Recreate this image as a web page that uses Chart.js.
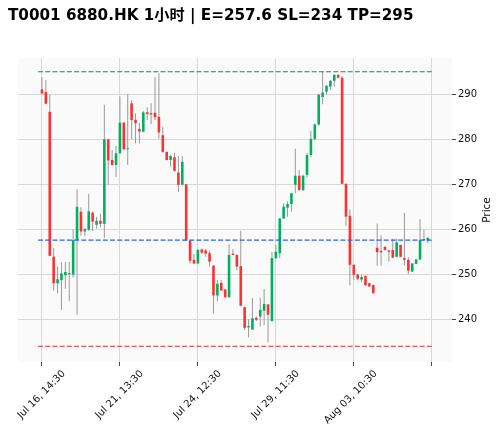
<!DOCTYPE html>
<html lang="en">
<head>
  <meta charset="UTF-8" />
  <title>T0001 6880.HK</title>
  <script src="https://cdn.jsdelivr.net/npm/chart.js@4"></script>
  <style>
    * { margin: 0; padding: 0; box-sizing: border-box; }
    body { background: #fff; width: 500px; height: 434px; overflow: hidden; }
    #chart { display: block; }
  </style>
</head>
<body>
  <canvas id="chart" width="500" height="434"></canvas>

  <script>
    // hourly candles, index 0..99
    const opens = [
      291.1, 290.5, 286.1, 253.9, 248.0, 248.7, 249.8, 250.2, 249.9, 257.6,
      263.9, 259.5, 259.9, 263.7, 261.0, 261.9, 261.2, 280.0, 275.4, 274.3,
      276.9, 283.7, 277.8, 288.0, 284.3, 282.3, 281.7, 286.0, 285.8, 285.9,
      285.0, 280.9, 277.2, 275.4, 276.0, 272.6, 269.9, 270.0, 257.5, 253.2,
      252.4, 255.5, 255.3, 254.7, 251.9, 245.3, 248.1, 246.6, 244.9, 254.6,
      254.3, 251.8, 242.7, 238.2, 237.7, 240.3, 240.6, 241.9, 243.3, 239.6,
      253.6, 254.7, 262.4, 264.8, 265.6, 269.9, 271.9, 268.7, 272.1, 276.5,
      280.1, 283.3, 289.4, 290.6, 291.7, 293.0, 294.3, 293.7, 270.1, 263.0,
      252.1, 249.9, 248.8, 249.6, 248.0, 247.6, 255.9, 255.2, 256.1, 255.3,
      255.4, 253.9, 256.5, 253.6, 253.2, 250.6, 252.3, 253.3, 257.6, 257.5
    ];
    const highs = [
      293.8, 293.2, 289.9, 255.8, 251.7, 252.6, 252.7, 252.8, 259.9, 268.9,
      264.9, 260.3, 267.9, 263.9, 262.8, 263.4, 287.7, 280.0, 277.6, 278.5,
      289.5, 283.8, 290.0, 288.6, 285.8, 283.6, 286.3, 287.1, 288.0, 293.9,
      294.7, 282.8, 277.3, 276.5, 277.0, 276.3, 276.3, 270.0, 257.6, 254.5,
      255.6, 255.7, 255.6, 255.3, 252.0, 248.7, 248.7, 246.7, 256.7, 255.6,
      254.4, 259.7, 242.8, 240.0, 244.7, 240.6, 244.8, 246.7, 243.4, 255.0,
      256.5, 262.5, 265.8, 266.2, 268.1, 277.9, 273.2, 272.2, 277.0, 281.9,
      283.5, 290.1, 295.0, 292.0, 293.2, 294.5, 294.5, 294.0, 270.2, 264.4,
      252.2, 250.2, 249.9, 249.8, 248.1, 247.7, 261.3, 258.7, 256.2, 255.4,
      257.9, 257.9, 256.6, 263.6, 253.8, 252.5, 253.4, 262.3, 259.9, 258.2
    ];
    const lows = [
      290.0, 287.8, 254.0, 246.4, 245.8, 242.1, 246.8, 244.0, 249.3, 241.0,
      258.6, 258.5, 259.6, 259.6, 260.2, 260.4, 258.0, 269.9, 274.2, 271.6,
      276.8, 277.5, 274.3, 280.0, 279.1, 279.1, 281.5, 284.3, 283.4, 284.3,
      280.2, 277.0, 275.3, 273.9, 272.8, 268.3, 269.8, 257.4, 252.4, 252.3,
      252.3, 254.5, 253.9, 251.7, 241.3, 244.0, 246.3, 244.8, 244.8, 254.2,
      250.9, 242.9, 237.6, 236.0, 237.6, 239.6, 238.4, 238.8, 234.9, 239.5,
      253.4, 253.6, 262.3, 262.8, 263.9, 268.0, 268.6, 268.5, 271.5, 276.0,
      279.8, 283.0, 287.8, 290.0, 291.0, 291.7, 293.6, 270.0, 260.8, 247.5,
      248.8, 248.7, 248.3, 247.4, 247.2, 245.7, 251.9, 251.9, 255.3, 252.8,
      253.6, 253.8, 253.8, 252.0, 250.0, 250.5, 252.2, 253.2, 257.5, 256.9
    ];
    const closes = [
      290.2, 287.9, 254.1, 248.0, 248.9, 250.2, 250.5, 250.0, 257.6, 265.0,
      259.5, 260.0, 264.0, 261.7, 261.9, 261.2, 280.0, 275.3, 274.3, 276.9,
      283.7, 277.8, 278.0, 284.3, 283.6, 281.7, 286.0, 285.6, 285.5, 284.9,
      281.5, 277.2, 275.4, 276.3, 273.0, 269.9, 275.0, 257.5, 253.0, 252.4,
      255.4, 254.8, 254.6, 252.8, 245.3, 247.9, 246.4, 244.9, 254.3, 254.3,
      251.7, 243.0, 238.1, 238.5, 240.2, 239.9, 242.1, 243.4, 241.0, 253.6,
      255.0, 262.4, 265.0, 265.6, 268.0, 271.9, 268.7, 271.9, 276.5, 280.1,
      283.3, 289.9, 290.4, 291.9, 293.0, 294.3, 293.7, 270.1, 262.8, 252.1,
      249.9, 249.0, 249.4, 247.6, 247.3, 245.8, 254.9, 254.9, 255.4, 255.0,
      253.7, 257.1, 253.9, 253.2, 250.8, 252.4, 253.3, 257.6, 257.7, 258.1
    ];

    const tickPositions = [0, 20, 40, 60, 80, 100];
    const tickLabels = ["Jul 16, 14:30", "Jul 21, 13:30", "Jul 24, 12:30", "Jul 29, 11:30", "Aug 03, 10:30", ""];
    const priceTicks = [240, 250, 260, 270, 280, 290];

    const entry = 257.6;
    const stopLoss = 234;
    const takeProfit = 295;
    const titleText = "T0001 6880.HK 1小时 | E=" + entry + " SL=" + stopLoss + " TP=" + takeProfit;

    const UP = '#00b060';
    const DOWN = '#fe3032';
    const WICK = '#9a9a9a';
    const GRID = '#d8d8d8';

    const bodies = opens.map((o, i) => ({ x: i, y: [o, closes[i]] }));
    const wicks = lows.map((l, i) => ({ x: i, y: [l, highs[i]] }));
    const bodyColors = opens.map((o, i) => closes[i] >= o ? UP : DOWN);

    function levelLine(value, color, width) {
      return {
        type: 'line',
        data: [{ x: -1, y: value }, { x: opens.length, y: value }],
        borderColor: color,
        borderWidth: width,
        borderDash: [5, 2.2],
        pointRadius: 0,
        order: 0
      };
    }

    const decorations = {
      id: 'decorations',
      beforeDraw(chart) {
        const { ctx, chartArea: a } = chart;
        ctx.save();
        ctx.fillStyle = '#fafafa';
        ctx.fillRect(a.left, a.top, a.right - a.left, a.bottom - a.top);
        ctx.restore();
      },
      afterDraw(chart) {
        const { ctx, chartArea: a } = chart;
        ctx.save();
        ctx.fillStyle = '#000';
        ctx.font = 'bold 15.2px "DejaVu Sans", "Noto Sans CJK SC", sans-serif';
        ctx.textBaseline = 'alphabetic';
        ctx.fillText(titleText, 8, 19.5);

        ctx.translate(487, (a.top + a.bottom) / 2);
        ctx.rotate(-Math.PI / 2);
        ctx.font = '10.5px "DejaVu Sans", sans-serif';
        ctx.textAlign = 'center';
        ctx.textBaseline = 'middle';
        ctx.fillStyle = '#111';
        ctx.fillText('Price', 0, 0);
        ctx.restore();
      }
    };

    new Chart(document.getElementById('chart'), {
      type: 'bar',
      data: {
        datasets: [
          levelLine(takeProfit, '#1e8a3c', 1.1),
          levelLine(entry, '#2a64f0', 1.4),
          levelLine(stopLoss, '#d43030', 1.1),
          {
            data: bodies,
            backgroundColor: bodyColors,
            barThickness: 2.6,
            minBarLength: 1,
            inflateAmount: 0,
            grouped: false,
            order: 1
          },
          {
            data: wicks,
            backgroundColor: WICK,
            barThickness: 1,
            inflateAmount: 0,
            grouped: false,
            order: 2
          }
        ]
      },
      options: {
        responsive: false,
        animation: false,
        layout: { padding: { left: 18, top: 58, right: 0, bottom: 0 } },
        plugins: { legend: { display: false }, tooltip: { enabled: false } },
        scales: {
          x: {
            type: 'linear',
            min: -6.15,
            max: 105.2,
            offset: false,
            border: { display: false },
            grid: { color: GRID, lineWidth: 1, offset: false, tickLength: 4, tickColor: '#444' },
            ticks: {
              autoSkip: false,
              minRotation: 45,
              maxRotation: 45,
              labelOffset: 22,
              padding: 2,
              color: '#111',
              font: { family: '"DejaVu Sans"', size: 10 },
              callback: v => {
                const k = tickPositions.indexOf(v);
                return k >= 0 ? tickLabels[k] : '';
              }
            },
            afterBuildTicks: s => { s.ticks = tickPositions.map(v => ({ value: v })); },
            afterFit: s => { s.height = 72; s.paddingLeft = 0; s.paddingRight = 0; }
          },
          y: {
            type: 'linear',
            position: 'right',
            min: 230.5,
            max: 298.07,
            border: { display: false },
            grid: { color: GRID, lineWidth: 1, tickLength: 4, tickColor: '#444' },
            ticks: {
              padding: 2,
              color: '#111',
              font: { family: '"DejaVu Sans"', size: 10 }
            },
            afterBuildTicks: s => { s.ticks = priceTicks.map(v => ({ value: v })); },
            afterFit: s => { s.width = 48; s.paddingTop = 0; s.paddingBottom = 0; }
          }
        }
      },
      plugins: [decorations]
    });
  </script>
</body>
</html>
